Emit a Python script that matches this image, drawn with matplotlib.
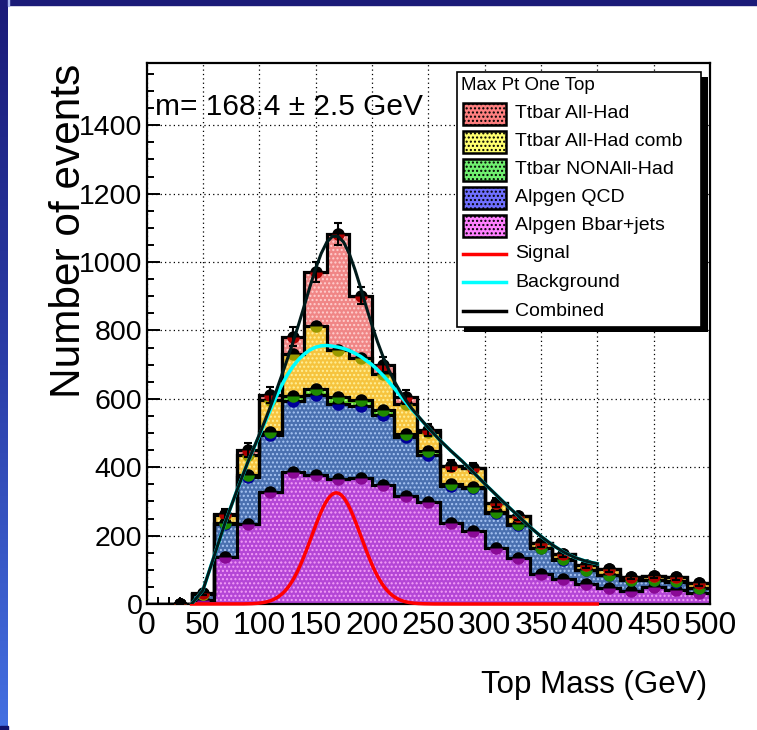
import numpy as np
import matplotlib
matplotlib.use("Agg")
import matplotlib.pyplot as plt
from matplotlib.patches import Rectangle
from matplotlib.lines import Line2D
from matplotlib.colors import LinearSegmentedColormap
from matplotlib.ticker import MultipleLocator

# ---------------- data ----------------
bin_edges = list(range(0, 520, 20))          # GeV, 20 GeV bins

bbar_jets   = [0, 0, 12, 138, 234, 328, 385, 377, 365, 367, 348, 316, 297, 236, 214, 163, 134, 88, 73, 58, 46, 39, 49, 41, 31]
qcd         = [0, 0, 16, 96, 138, 166, 208, 235, 220, 212, 205, 171, 139, 109, 124, 102, 97, 75, 56, 41, 39, 31, 21, 24, 15]
nonallhad   = [0, 0, 0, 2, 6, 10, 15, 18, 21, 17, 15, 10, 10, 7, 5, 3, 2, 2, 2, 1, 1, 1, 1, 1, 1]
allhad_comb = [0, 0, 2, 24, 58, 92, 124, 182, 136, 123, 104, 88, 58, 53, 55, 28, 24, 12, 15, 14, 15, 9, 11, 12, 13]
allhad      = [0, 0, 1, 2, 14, 15, 49, 160, 340, 183, 28, 21, 5, 0, 0, 0, 0, 0, 0, 0, 0, 0, 0, 0, 0]
total_err   = [0, 0, 5, 15, 20, 24, 28, 29, 31, 26, 22, 20, 17, 15, 15, 13, 12, 10, 9, 8, 8, 7, 7, 7, 6]

# background fit curve
bg_mass   = [40, 50, 60, 70, 80, 90, 100, 105, 110, 115, 120, 125, 130, 135, 140, 145, 150, 155,
             160, 165, 170, 175, 180, 185, 190, 195, 200, 205, 210, 215, 220, 225, 230, 235, 240,
             250, 260, 270, 280, 290, 300, 310, 320, 330, 340, 350, 360, 370, 380, 390, 400]
bg_counts = [0, 40, 140, 240, 330, 415, 492, 530, 568, 605, 640, 670, 695, 715, 731, 743, 751, 755,
             756, 754, 751, 747, 741, 733, 724, 712, 700, 685, 668, 650, 630, 610, 590, 570, 552,
             515, 480, 448, 418, 385, 352, 320, 288, 257, 226, 198, 173, 152, 136, 125, 118]

# signal fit (gaussian)
fit_mass, fit_mass_err = 168.4, 2.5
sig_amp, sig_width = 325.0, 22.0
fit_range = (40, 400)

layer_names = ["Alpgen Bbar+jets", "Alpgen QCD", "Ttbar NONAll-Had", "Ttbar All-Had comb", "Ttbar All-Had"]
layer_vals = [bbar_jets, qcd, nonallhad, allhad_comb, allhad]

# ---------------- style ----------------
W, H = 757, 730
FONT = "Liberation Sans"
plt.rcParams["font.family"] = [FONT, "DejaVu Sans"]
plt.rcParams["hatch.linewidth"] = 1.0

fill_colors  = ["#b446d6", "#4a70b0", "#5fd22a", "#f6c43e", "#f08686"]
hatch_colors = ["#f4a0f8", "#a9c7f5", "#b8f59a", "#fff09a", "#ffd0d0"]
mark_colors  = ["#8a0a96", "#000099", "#1f8a00", "#9a9a00", "#b00000"]
legend_fill  = ["#ff80ff", "#7070ff", "#70f070", "#ffff70", "#ff8080"]

fig = plt.figure(figsize=(W / 100, H / 100), dpi=100)

def px(x, y):
    return (x / W, 1 - y / H)

# canvas frame: navy top bar and gradient left edge
strip = fig.add_axes([0, 0, 8 / W, 1])
cmap = LinearSegmentedColormap.from_list("frame", ["#1b1b78", "#2b3ea8", "#4470e2"])
strip.imshow(np.linspace(0, 1, 256).reshape(-1, 1), aspect="auto", cmap=cmap,
             extent=[0, 1, 0, 1], origin="upper")
strip.axis("off")
fig.add_artist(Rectangle(px(0, 5), 1, 5 / H, transform=fig.transFigure, color="#1b1b78", zorder=5))
fig.add_artist(Rectangle(px(8, 6), 1.2 / W, (H - 6) / H, transform=fig.transFigure, color="#aab8f0", zorder=5))
fig.add_artist(Rectangle((0, 0), 8 / W, 4 / H, transform=fig.transFigure, color="#12126a", zorder=5))

ax_l, ax_r, ax_t, ax_b = 146.5, 710, 63, 604
ax = fig.add_axes([ax_l / W, 1 - ax_b / H, (ax_r - ax_l) / W, (ax_b - ax_t) / H])
ax.set_xlim(0, 500)
ax.set_ylim(0, 1582)

edges = np.array(bin_edges, dtype=float)
centers = 0.5 * (edges[:-1] + edges[1:])

# stacked histograms
base = np.zeros(len(centers))
tops = []
for i, vals in enumerate(layer_vals):
    top = base + np.array(vals, dtype=float)
    ax.stairs(top, edges, baseline=base, fill=True, facecolor=fill_colors[i],
              edgecolor=hatch_colors[i], hatch="....", linewidth=0, zorder=2)
    tops.append(top)
    base = top
for top in tops:
    ax.stairs(top, edges, baseline=None, color="black", linewidth=2.3, zorder=3)

# markers at each layer top
show = centers >= 30
for i, top in enumerate(tops):
    ax.plot(centers[show], top[show], linestyle="none", marker="o", markersize=9,
            fillstyle="top", markerfacecolor="black", markerfacecoloralt=mark_colors[i],
            markeredgewidth=0, zorder=4)
ax.errorbar(centers[show], tops[-1][show], yerr=np.array(total_err)[show], fmt="none",
            ecolor="black", elinewidth=1.5, capsize=3, capthick=1.5, zorder=4)

# fit curves
xs = np.linspace(fit_range[0], fit_range[1], 600)
signal = sig_amp * np.exp(-0.5 * ((xs - fit_mass) / sig_width) ** 2)
bgx = np.array(bg_mass, dtype=float)
combined = np.array(bg_counts) + sig_amp * np.exp(-0.5 * ((bgx - fit_mass) / sig_width) ** 2)
ax.plot(xs, signal, color="red", linewidth=2.5, zorder=6, clip_on=False)
ax.plot(bg_mass, bg_counts, color="cyan", linewidth=2.5, zorder=6)
ax.plot(bgx, combined, color="#001a1a", linewidth=2.2, zorder=7)

# grid, ticks
ax.xaxis.set_major_locator(MultipleLocator(50))
ax.xaxis.set_minor_locator(MultipleLocator(10))
ax.yaxis.set_major_locator(MultipleLocator(200))
ax.yaxis.set_minor_locator(MultipleLocator(50))
ax.set_yticks(range(0, 1401, 200))
ax.grid(True, which="major", color="black", linestyle=(0, (1, 2.5)), linewidth=0.9)
ax.set_axisbelow(True)
ax.tick_params(which="both", direction="in", width=1.4, colors="black")
ax.tick_params(which="major", length=9.5)
ax.tick_params(which="minor", length=5)
ax.tick_params(axis="x", labelsize=23, pad=5)
ax.tick_params(axis="y", labelsize=20.5, pad=3)
for s in ax.spines.values():
    s.set_linewidth(1.6)

# axis titles
fig.text(*px(707, 693), "Top Mass (GeV)", ha="right", va="baseline", fontsize=22.5)
fig.text(*px(69, 64), "Number of events", ha="center", va="top", rotation=90, fontsize=30.5)

# fit result
ax.text(0.015, 0.919, f"m= {fit_mass} \u00b1 {fit_mass_err} GeV", transform=ax.transAxes,
        ha="left", va="center", fontsize=21.5, zorder=8)

# legend box drawn by hand
lx0, ly0, lx1, ly1 = 457, 72, 701, 327
fig.add_artist(Rectangle(px(lx0 + 7, ly1 + 5), (lx1 - lx0) / W, (ly1 - ly0) / H,
                         transform=fig.transFigure, facecolor="black", edgecolor="none", zorder=9))
fig.add_artist(Rectangle(px(lx0, ly1), (lx1 - lx0) / W, (ly1 - ly0) / H,
                         transform=fig.transFigure, facecolor="white", edgecolor="black",
                         linewidth=1.2, zorder=10))
fig.text(*px(461, 86), "Max Pt One Top", ha="left", va="center", fontsize=13.5, zorder=11)
row_y = [114, 142, 170, 198, 226, 254, 282, 311]
entries = list(reversed(range(5)))
for r, i in enumerate(entries):
    y = row_y[r]
    fig.add_artist(Rectangle(px(463, y + 10.5), 43 / W, 21 / H, transform=fig.transFigure,
                             facecolor=legend_fill[i], edgecolor="black", linewidth=1.8,
                             hatch="....", zorder=11))
    fig.text(*px(515, y), layer_names[i], ha="left", va="center", fontsize=14, zorder=11)
for r, (name, col) in enumerate([("Signal", "red"), ("Background", "cyan"), ("Combined", "black")]):
    y = row_y[5 + r]
    fig.add_artist(Line2D([463 / W, 506 / W], [1 - y / H, 1 - y / H], transform=fig.transFigure,
                          color=col, linewidth=2.5, zorder=11))
    fig.text(*px(515, y), name, ha="left", va="center", fontsize=14, zorder=11)

fig.savefig("out.png", dpi=100, facecolor="white")
